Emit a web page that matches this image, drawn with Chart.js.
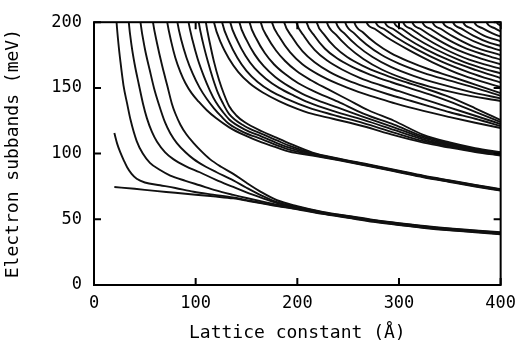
<!DOCTYPE html>
<html>
<head>
<meta charset="utf-8">
<script src="https://cdn.jsdelivr.net/npm/chart.js@4.4.0/dist/chart.umd.min.js"></script>
<style>
  html, body { margin: 0; padding: 0; background: #fff; }
  canvas { display: block; }
</style>
</head>
<body>
<canvas id="subbands" width="524" height="352"></canvas>
<script>
// curves, each point is [lattice constant (Å), energy (meV)]
// lowest bundle (ends near 38 meV)
const bundle1 = [
  [[20,74.6],[40,73.2],[60,71.6],[80,70.2],[100,68.7],[120,67.3],[137,65.9],[150,64.2],[165,62.2],[180,60.1],[200,57.6],[225,54.1],[250,51.1],[275,48.1],[300,45.6],[325,43.4],[350,41.6],[375,40.1],[400,38.6]],
  [[20,115.7],[23,107],[26,100.7],[29.5,94.5],[32.6,89.6],[37,84.5],[42,80.8],[50,78],[65,75.9],[80,73.8],[98,71],[117,68.8],[137,66.6],[150,64.6],[165,62.5],[180,60.4],[200,57.9],[225,54.4],[250,51.4],[275,48.4],[300,45.9],[325,43.7],[350,41.9],[375,40.4],[400,38.9]],
  [[20,228],[22.2,200],[24,184],[26,170],[29,152],[32.6,138],[36,125.5],[42,109.5],[48,100],[55,93],[65,87.5],[75,83.3],[90,79.3],[104,75.9],[120,72],[137,68.6],[150,66.2],[165,63.6],[180,61.2],[200,58.6],[225,54.7],[250,51.7],[275,48.7],[300,46.2],[325,44],[350,42.2],[375,40.7],[400,39.2]],
  [[32,225],[34.2,200],[37,182],[40,168],[44,153],[48.2,138],[52,127],[57,116.5],[62,109],[70,101],[78,95.8],[90,90.5],[104,85.8],[120,80],[137,74.6],[150,70.5],[165,66.3],[180,62.3],[200,58.9],[225,55],[250,52],[275,49],[300,46.5],[325,44.3],[350,42.5],[375,41],[400,39.5]],
  [[43,222],[45.7,200],[50,180],[55,163],[59,150],[63.6,138],[70,123.5],[75,115.5],[81.5,108],[90,101],[98,95.8],[110,90],[120.6,85.8],[137,79.6],[150,74],[165,68],[180,63],[200,59.4],[225,55.3],[250,52.3],[275,49.3],[300,46.8],[325,44.6],[350,42.8],[375,41.3],[400,39.8]],
  [[55,220],[58,200],[62,184],[67,167],[72,152],[76.6,138],[80,130.5],[85,122],[91,114.5],[98,108],[106,101.5],[114,95.8],[125,90],[137,84.6],[150,77.8],[165,70.5],[180,64.5],[200,60],[225,55.6],[250,52.6],[275,49.6],[300,47.1],[325,44.9],[350,43.1],[375,41.6],[400,40.1]]
];

// second bundle (ends near 72 meV)
const bundle2 = [
  [[69,217],[72,200],[76,185],[80,173],[85,162],[90,153.5],[96,146],[103,139.5],[111,133],[120,127],[133,120],[148,114],[165,108.5],[180,104.5],[192,101.5],[215,98.5],[240,95],[270,90.5],[300,85.8],[324,82],[350,78.4],[375,75],[400,71.8]],
  [[79,217],[82,200],[86,186],[91,173],[97,161],[104,150],[111,141.5],[118,134.5],[125,128.5],[133,122.5],[148,116],[165,111],[180,106.2],[192,103],[215,99],[240,95.4],[270,90.8],[300,86.1],[324,82.3],[350,78.7],[375,75.3],[400,72.1]],
  [[90,217],[93,200],[97,186],[102,172],[108,159],[114,148],[120,139],[127,131.5],[133,126],[148,118.5],[165,113],[180,108],[192,104.5],[215,99.5],[240,95.7],[270,91.1],[300,86.4],[324,82.6],[350,79],[375,75.6],[400,72.4]],
  [[100,218],[103,200],[107,185],[112,170],[117,157],[122,146],[127,138],[133,130],[148,121],[165,115],[180,110],[192,106],[215,100.1],[240,96],[270,91.4],[300,86.7],[324,82.9],[350,79.3],[375,75.9],[400,72.7]],
  [[107,218],[110,200],[114,184],[118,170],[123,156],[128,145],[133,136],[140,129],[148,124],[165,117],[180,112],[192,107.8],[215,100.8],[240,96.3],[270,91.7],[300,87],[324,83.2],[350,79.6],[375,76.2],[400,73]]
];

// third bundle (ends near 100 meV)
const bundle3 = [
  [[115,214],[118,200],[125,184],[133,172],[142,162],[153,153.5],[166,146.5],[182,140],[200,134],[211,131],[235,126.5],[265,120.8],[295,114],[324,108.3],[350,104.5],[375,101.2],[400,98.5]],
  [[123,214],[126,200],[133,185],[141,173],[150,163],[161,154.5],[174,147.5],[190,141.5],[211,135],[235,129.5],[265,123.2],[295,116],[324,109.5],[350,105.3],[375,101.8],[400,99]],
  [[131,214],[134,200],[141,186],[149,174.5],[158,165],[169,157],[182,150],[197,144],[211,139],[235,132.5],[265,125.6],[295,118],[324,110.7],[350,106.1],[375,102.4],[400,99.5]],
  [[140,214],[143,200],[150,186.5],[158,175.5],[167,166.5],[178,158.5],[191,151.5],[205,145.5],[220,140.5],[240,135],[265,128],[295,120],[324,111.9],[350,106.9],[375,103],[400,100]],
  [[150,214],[153,200],[160,187],[168,176.5],[177,168],[188,160.5],[201,153.5],[215,148],[240,139.5],[265,130.4],[295,122],[324,113.1],[350,107.7],[375,103.6],[400,100.5]],
  [[161,214],[164,200],[171,188],[179,178.5],[188,170.5],[199,163],[213,156],[230,149],[250,141],[270,133],[295,125],[324,114.3],[350,108.5],[375,104.2],[400,101]]
];

// fourth bundle (ends near 122 meV)
const bundle4 = [
  [[172,212],[175,200],[183,188],[193,177],[205,168],[220,160.5],[240,153],[260,147],[280,142],[297,138],[324,132.5],[350,127.8],[375,123.5],[400,119.5]],
  [[184,212],[187,200],[195,188.5],[205,178],[217,169.5],[232,162],[250,155.5],[270,150],[290,145],[310,140.5],[330,136],[350,131.5],[375,126.5],[400,121]],
  [[196,212],[199,200],[207,189],[217,179],[229,171],[244,164],[262,157.5],[282,152],[300,147.5],[324,141.5],[350,135],[375,128.8],[400,122.5]],
  [[206,212],[209,200],[217,189.5],[227,180],[239,172.5],[254,166],[272,160],[292,154.5],[310,150],[330,145],[350,139.5],[375,131.8],[400,124]],
  [[216,212],[219,200],[227,190],[237,181],[249,173.5],[264,167],[282,161],[302,155.5],[324,150],[350,143],[375,134.5],[400,125.5]]
];

// fifth bundle (ends near 143 meV)
const bundle5 = [
  [[226,211],[229,200],[238,190.5],[250,181],[265,172],[283,164],[305,157],[330,151],[360,145.5],[400,140]],
  [[235,211],[238,200],[247,191],[259,182],[274,173.5],[292,166],[315,159],[340,153],[370,147],[400,142]],
  [[244,211],[247,200],[256,191.5],[268,183],[283,175],[300,168.5],[324,161.5],[350,155.5],[375,150],[400,144]],
  [[253,211],[256,200],[265,192],[277,184],[292,176.5],[310,170],[330,164],[350,159],[375,152.5],[400,146]]
];

// curves still falling at the right edge
const upperCurves = [
  [[265,211],[268,200],[276,195],[288,188.5],[308,179.5],[333,169.5],[363,159.5],[400,150.5]],
  [[274,211],[277,200],[285,195],[297,188.5],[317,179.5],[342,170],[370,161.5],[400,154]],
  [[283,211],[286,200],[294,195],[306,188.5],[326,179.5],[351,170.5],[376,163.5],[400,157.5]],
  [[292,211],[295,200],[303,195],[315,188.5],[335,179.8],[360,171],[380,165.5],[400,161]],
  [[301,211],[304,200],[312,195],[324,188.7],[344,180],[369,171.5],[400,164.5]],
  [[310,211],[313,200],[321,195],[333,189],[353,180.5],[378,173],[400,168]],
  [[320,211],[323,200],[331,195],[343,189],[363,181],[385,175],[400,171.5]],
  [[330,211],[333,200],[341,195],[353,189.2],[373,181.5],[400,175]],
  [[340,210],[343,200],[351,195.2],[363,189.5],[383,182.5],[400,178.5]],
  [[350,210],[353,200],[361,195.3],[373,189.8],[390,184],[400,182]],
  [[360,210],[363,200],[371,195.4],[383,190],[400,185.5]],
  [[371,209],[374,200],[382,195.5],[392,191.5],[400,189]],
  [[383,209],[386,200],[394,195.5],[400,193]],
  [[393,208],[396,200],[400,197.5]]
];

const xTicks = [0, 100, 200, 300, 400];
const yTicks = [0, 50, 100, 150, 200];

const allCurves = [...bundle1, ...bundle2, ...bundle3, ...bundle4, ...bundle5, ...upperCurves];

const datasets = allCurves.map(curve => ({
  data: curve.map(([x, y]) => ({ x: x, y: y })),
  showLine: true,
  borderColor: '#111',
  borderWidth: 1.9,
  pointRadius: 0,
  fill: false,
  cubicInterpolationMode: 'monotone',
  clip: 0
}));

// box round the plot with short ticks pointing inwards on all four sides
const frameTicks = {
  id: 'frameTicks',
  afterDraw(chart) {
    const { ctx, chartArea: a, scales: { x, y } } = chart;
    ctx.save();
    ctx.strokeStyle = '#000';
    ctx.lineWidth = 2;
    ctx.strokeRect(a.left, a.top, a.right - a.left, a.bottom - a.top);
    ctx.beginPath();
    xTicks.forEach(v => {
      const px = x.getPixelForValue(v);
      ctx.moveTo(px, a.bottom); ctx.lineTo(px, a.bottom - 7);
      ctx.moveTo(px, a.top); ctx.lineTo(px, a.top + 7);
    });
    yTicks.forEach(v => {
      const py = y.getPixelForValue(v);
      ctx.moveTo(a.left, py); ctx.lineTo(a.left + 7, py);
      ctx.moveTo(a.right, py); ctx.lineTo(a.right - 7, py);
    });
    ctx.stroke();
    ctx.restore();
  }
};

const monoFont = 'DejaVu Sans Mono';

new Chart(document.getElementById('subbands'), {
  type: 'scatter',
  data: { datasets: datasets },
  options: {
    responsive: false,
    animation: false,
    events: [],
    layout: { padding: { left: 0, top: 17, right: 21, bottom: 0 } },
    plugins: { legend: { display: false }, tooltip: { enabled: false } },
    scales: {
      x: {
        type: 'linear',
        min: 0,
        max: 400,
        afterBuildTicks: s => { s.ticks = xTicks.map(v => ({ value: v })); },
        afterFit: s => { s.height = 67; },
        grid: { display: false, drawTicks: false },
        border: { display: false },
        ticks: { color: '#000', padding: 8, font: { family: monoFont, size: 17 } },
        title: {
          display: true,
          text: 'Lattice constant (Å)',
          color: '#000',
          font: { family: monoFont, size: 18 },
          padding: { top: 0, bottom: 8 }
        }
      },
      y: {
        min: 0,
        max: 200,
        afterBuildTicks: s => { s.ticks = yTicks.map(v => ({ value: v })); },
        afterFit: s => { s.width = 94; },
        grid: { display: false, drawTicks: false },
        border: { display: false },
        ticks: { color: '#000', padding: 12, font: { family: monoFont, size: 17 } },
        title: {
          display: true,
          text: 'Electron subbands (meV)',
          color: '#000',
          font: { family: monoFont, size: 18 },
          padding: { top: 3, bottom: 0 }
        }
      }
    }
  },
  plugins: [frameTicks]
});
</script>
</body>
</html>
